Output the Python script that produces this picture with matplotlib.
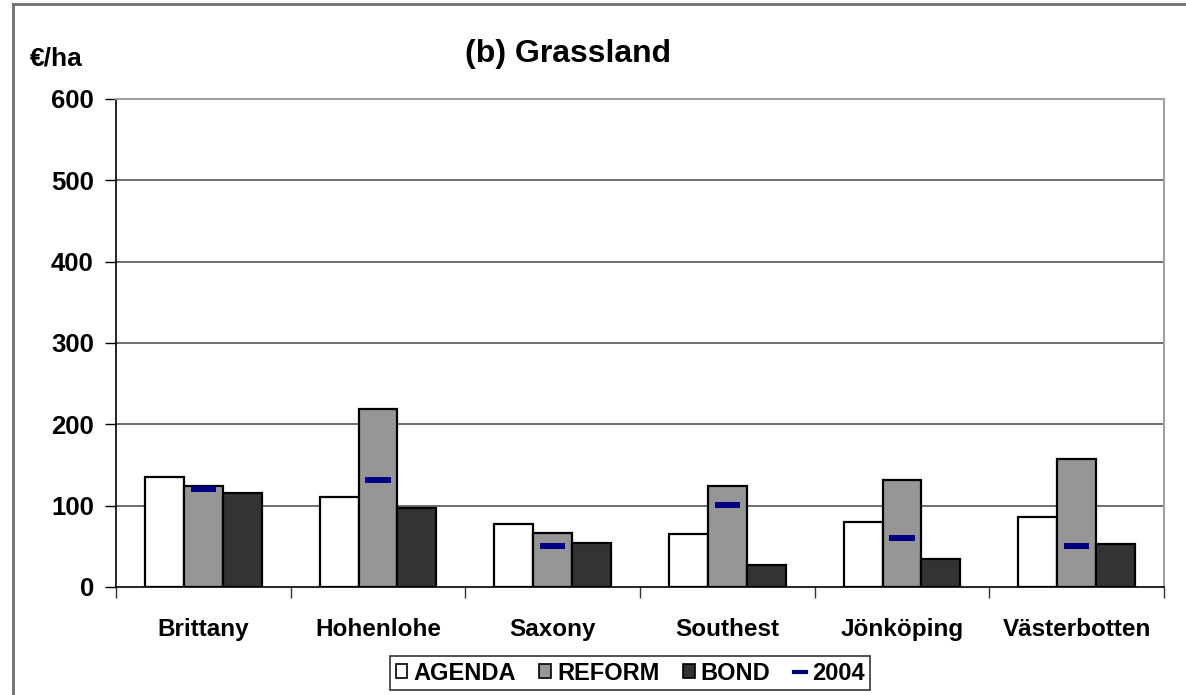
import matplotlib
matplotlib.use("Agg")
import matplotlib.pyplot as plt
import numpy as np
from matplotlib.lines import Line2D
from matplotlib.patches import Patch

plt.rcParams['font.family'] = ['Liberation Sans', 'DejaVu Sans']
plt.rcParams['font.weight'] = 'bold'

regions = ["Brittany", "Hohenlohe", "Saxony", "Southest", "Jönköping", "Västerbotten"]
agenda = [135, 111, 78, 65, 80, 86]
reform = [124, 219, 66, 124, 131, 157]
bond = [115, 97, 54, 27, 35, 53]
level_2004 = [121, 132, 51, 101, 60, 50]
yticks = [0, 100, 200, 300, 400, 500, 600]

W, H = 1186, 695
fig = plt.figure(figsize=(W / 100, H / 100), dpi=100)
ax = fig.add_axes([116 / W, (H - 587) / H, (1164 - 116) / W, (587 - 99) / H])

x = np.arange(len(regions))
bw = 0.223
ax.bar(x - bw, agenda, bw, color='white', edgecolor='black', linewidth=1.6, zorder=3, label='AGENDA')
ax.bar(x, reform, bw, color='#969696', edgecolor='black', linewidth=1.6, zorder=3, label='REFORM')
ax.bar(x + bw, bond, bw, color='#333333', edgecolor='black', linewidth=1.6, zorder=3, label='BOND')
ax.hlines(level_2004, x - 0.072, x + 0.072, colors='#000080', linewidth=4.3, zorder=4)

ax.set_xlim(-0.5, len(regions) - 0.5)
ax.set_ylim(0, 600)
ax.set_yticks(yticks)
ax.set_yticklabels([str(v) for v in yticks], fontsize=18.5, fontweight='bold')
ax.set_xticks(x)
ax.set_xticklabels(regions, fontsize=17.5, fontweight='bold')
ax.tick_params(axis='x', length=0, pad=22)
ax.set_xticks(np.arange(len(regions) + 1) - 0.5, minor=True)
ax.tick_params(axis='x', which='minor', length=8, width=1, color='#333333', direction='out')
ax.tick_params(axis='y', length=8, width=1, color='black', direction='out', pad=8)

for v in yticks[1:-1]:
    ax.axhline(v, color='#555555', linewidth=1.2, zorder=1)

for side in ['top', 'right']:
    ax.spines[side].set_color('#a0a0a0')
    ax.spines[side].set_linewidth(1.5)
ax.spines['left'].set_color('black')
ax.spines['left'].set_linewidth(1.2)
ax.spines['bottom'].set_color('black')
ax.spines['bottom'].set_linewidth(1.2)

fig.text(568 / W, 1 - 54 / H, "(b) Grassland", ha='center', va='center', fontsize=23, fontweight='bold')
fig.text(30 / W, 1 - 59 / H, "€/ha", ha='left', va='center', fontsize=19, fontweight='bold')

# outer frame lines
fig.add_artist(Line2D([13 / W, 13 / W], [0, 1 - 4 / H], transform=fig.transFigure, color='#707070', linewidth=2))
fig.add_artist(Line2D([13 / W, 1], [1 - 4 / H, 1 - 4 / H], transform=fig.transFigure, color='#707070', linewidth=2))

handles = [
    Patch(facecolor='white', edgecolor='black', linewidth=1.2),
    Patch(facecolor='#969696', edgecolor='black', linewidth=1.2),
    Patch(facecolor='#333333', edgecolor='black', linewidth=1.2),
    Line2D([0], [0], color='#000080', linewidth=3),
]
leg = fig.legend(handles, ['AGENDA', 'REFORM', 'BOND', '2004'], loc='center',
                 bbox_to_anchor=(630 / W, 1 - 673 / H), ncol=4, frameon=True,
                 fancybox=False, edgecolor='black',
                 prop={'weight': 'bold', 'size': 17},
                 handlelength=0.5, handleheight=0.5, handletextpad=0.25,
                 columnspacing=1.0, borderpad=0.25, borderaxespad=0)
leg.get_frame().set_linewidth(1.2)

fig.savefig("out.png", dpi=100, facecolor='white')
